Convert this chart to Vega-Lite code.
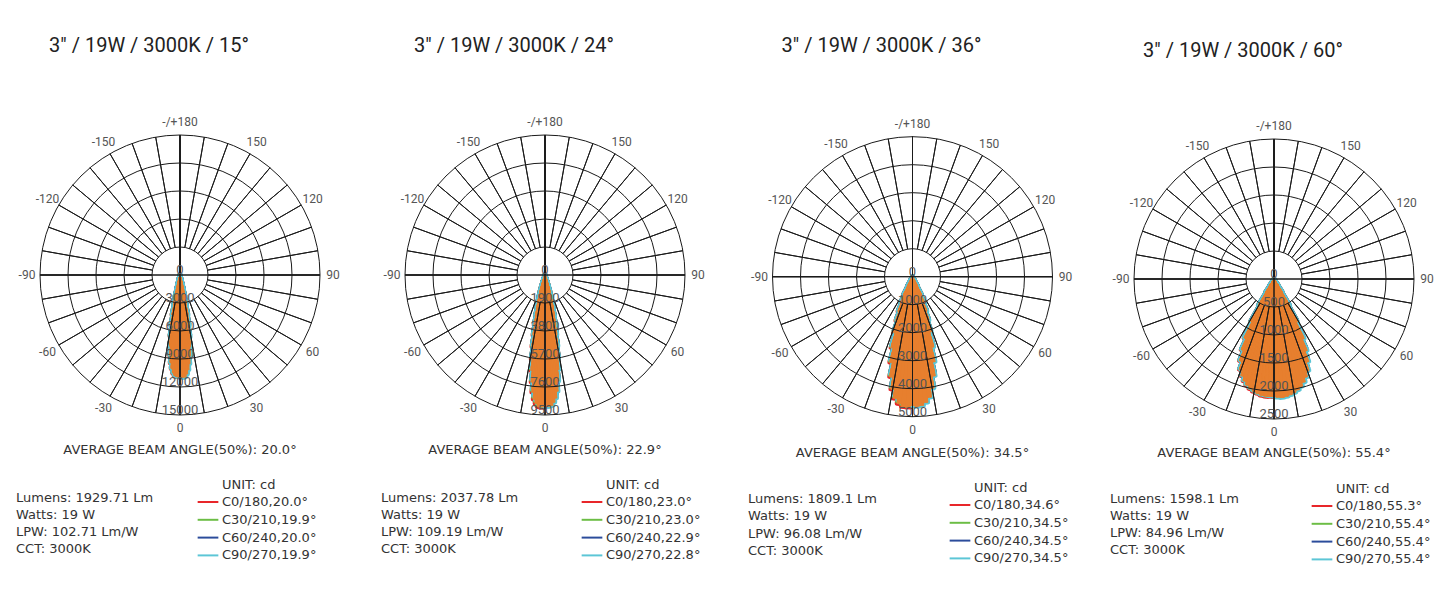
{
"$schema": "https://vega.github.io/schema/vega-lite/v6.json",
"padding": {"left": 0, "top": 36, "right": 0, "bottom": 0},
"background": "white",
"config": {"view": {"stroke": null}, "font": "DejaVu Sans"},
"datasets": {
"b1": [
{"a":-19,"c0":95,"c30":94,"c60":93,"c90":94},{"a":-18,"c0":194,"c30":192,"c60":190,"c90":192},{"a":-17,"c0":366,"c30":362,"c60":358,"c90":362},{"a":-16,"c0":643,"c30":637,"c60":631,"c90":637},{"a":-15,"c0":1062,"c30":1051,"c60":1040,"c90":1051},{"a":-14,"c0":1644,"c30":1628,"c60":1612,"c90":1628},{"a":-13,"c0":2402,"c30":2378,"c60":2354,"c90":2378},{"a":-12,"c0":3321,"c30":3288,"c60":3255,"c90":3288},{"a":-11,"c0":4377,"c30":4334,"c60":4291,"c90":4334},{"a":-10,"c0":5505,"c30":5450,"c60":5396,"c90":5450},{"a":-9,"c0":6643,"c30":6577,"c60":6511,"c90":6577},{"a":-8,"c0":7719,"c30":7643,"c60":7567,"c90":7643},{"a":-7,"c0":8677,"c30":8591,"c60":8505,"c90":8591},{"a":-6,"c0":9478,"c30":9384,"c60":9290,"c90":9384},{"a":-5,"c0":10095,"c30":9995,"c60":9895,"c90":9995},{"a":-4,"c0":10531,"c30":10427,"c60":10323,"c90":10427},{"a":-3,"c0":10805,"c30":10698,"c60":10591,"c90":10698},{"a":-2,"c0":10913,"c30":10840,"c60":10767,"c90":10840},{"a":-1,"c0":10928,"c30":10892,"c60":10856,"c90":10892},{"a":0,"c0":10900,"c30":10900,"c60":10900,"c90":10900},{"a":1,"c0":10783,"c30":10819,"c60":10856,"c90":10965},{"a":2,"c0":10623,"c30":10696,"c60":10767,"c90":10984},{"a":3,"c0":10377,"c30":10484,"c60":10591,"c90":10912},{"a":4,"c0":10114,"c30":10218,"c60":10323,"c90":10636},{"a":5,"c0":9695,"c30":9795,"c60":9895,"c90":10195},{"a":6,"c0":9102,"c30":9196,"c60":9290,"c90":9572},{"a":7,"c0":8333,"c30":8419,"c60":8505,"c90":8763},{"a":8,"c0":7414,"c30":7490,"c60":7567,"c90":7796},{"a":9,"c0":6380,"c30":6445,"c60":6511,"c90":6709},{"a":10,"c0":5287,"c30":5341,"c60":5396,"c90":5559},{"a":11,"c0":4204,"c30":4247,"c60":4291,"c90":4421},{"a":12,"c0":3189,"c30":3222,"c60":3255,"c90":3354},{"a":13,"c0":2307,"c30":2330,"c60":2354,"c90":2426},{"a":14,"c0":1579,"c30":1595,"c60":1612,"c90":1661},{"a":15,"c0":1019,"c30":1030,"c60":1040,"c90":1072},{"a":16,"c0":618,"c30":624,"c60":631,"c90":650},{"a":17,"c0":351,"c30":355,"c60":358,"c90":369},{"a":18,"c0":186,"c30":188,"c60":190,"c90":196},{"a":19,"c0":91,"c30":92,"c60":93,"c90":96}
],
"b2": [
{"a":-22,"c0":101,"c30":99,"c60":97,"c90":98},{"a":-21,"c0":202,"c30":198,"c60":194,"c90":196},{"a":-20,"c0":367,"c30":360,"c60":352,"c90":356},{"a":-19,"c0":595,"c30":584,"c60":572,"c90":578},{"a":-18,"c0":870,"c30":853,"c60":837,"c90":845},{"a":-17,"c0":1191,"c30":1168,"c60":1144,"c90":1156},{"a":-16,"c0":1556,"c30":1526,"c60":1496,"c90":1511},{"a":-15,"c0":1968,"c30":1930,"c60":1892,"c90":1911},{"a":-14,"c0":2380,"c30":2334,"c60":2288,"c90":2311},{"a":-13,"c0":2884,"c30":2828,"c60":2772,"c90":2800},{"a":-12,"c0":3479,"c30":3412,"c60":3344,"c90":3378},{"a":-11,"c0":4166,"c30":4085,"c60":4005,"c90":4045},{"a":-10,"c0":4945,"c30":4849,"c60":4753,"c90":4801},{"a":-9,"c0":5769,"c30":5657,"c60":5545,"c90":5601},{"a":-8,"c0":6547,"c30":6420,"c60":6292,"c90":6356},{"a":-7,"c0":7325,"c30":7183,"c60":7041,"c90":7112},{"a":-6,"c0":8012,"c30":7857,"c60":7701,"c90":7779},{"a":-5,"c0":8470,"c30":8305,"c60":8141,"c90":8223},{"a":-4,"c0":8745,"c30":8575,"c60":8405,"c90":8490},{"a":-3,"c0":8947,"c30":8773,"c60":8599,"c90":8686},{"a":-2,"c0":8977,"c30":8860,"c60":8742,"c90":8801},{"a":-1,"c0":8952,"c30":8892,"c60":8834,"c90":8863},{"a":0,"c0":8890,"c30":8890,"c60":8890,"c90":8890},{"a":1,"c0":8774,"c30":8804,"c60":8834,"c90":8922},{"a":2,"c0":8625,"c30":8684,"c60":8742,"c90":8918},{"a":3,"c0":8425,"c30":8512,"c60":8599,"c90":8860},{"a":4,"c0":8235,"c30":8320,"c60":8405,"c90":8660},{"a":5,"c0":7976,"c30":8059,"c60":8141,"c90":8387},{"a":6,"c0":7546,"c30":7623,"c60":7701,"c90":7935},{"a":7,"c0":6899,"c30":6970,"c60":7041,"c90":7254},{"a":8,"c0":6165,"c30":6229,"c60":6292,"c90":6483},{"a":9,"c0":5433,"c30":5489,"c60":5545,"c90":5713},{"a":10,"c0":4657,"c30":4705,"c60":4753,"c90":4897},{"a":11,"c0":3924,"c30":3964,"c60":4005,"c90":4126},{"a":12,"c0":3277,"c30":3310,"c60":3344,"c90":3446},{"a":13,"c0":2716,"c30":2744,"c60":2772,"c90":2856},{"a":14,"c0":2242,"c30":2265,"c60":2288,"c90":2357},{"a":15,"c0":1854,"c30":1873,"c60":1892,"c90":1949},{"a":16,"c0":1466,"c30":1481,"c60":1496,"c90":1541},{"a":17,"c0":1121,"c30":1133,"c60":1144,"c90":1179},{"a":18,"c0":820,"c30":828,"c60":837,"c90":862},{"a":19,"c0":561,"c30":566,"c60":572,"c90":590},{"a":20,"c0":345,"c30":349,"c60":352,"c90":363},{"a":21,"c0":190,"c30":192,"c60":194,"c90":200},{"a":22,"c0":95,"c30":96,"c60":97,"c90":100}
],
"b3": [
{"a":-34,"c0":19,"c30":18,"c60":18,"c90":18},{"a":-32,"c0":57,"c30":56,"c60":54,"c90":55},{"a":-30,"c0":166,"c30":163,"c60":159,"c90":161},{"a":-28,"c0":402,"c30":394,"c60":386,"c90":390},{"a":-26,"c0":732,"c30":718,"c60":704,"c90":711},{"a":-24,"c0":1064,"c30":1043,"c60":1023,"c90":1033},{"a":-22,"c0":1347,"c30":1321,"c60":1295,"c90":1308},{"a":-20,"c0":1678,"c30":1645,"c60":1613,"c90":1629},{"a":-18,"c0":2104,"c30":2063,"c60":2023,"c90":2043},{"a":-16,"c0":2647,"c30":2596,"c60":2544,"c90":2570},{"a":-14,"c0":3167,"c30":3106,"c60":3044,"c90":3075},{"a":-12,"c0":3664,"c30":3593,"c60":3521,"c90":3557},{"a":-10,"c0":4089,"c30":4010,"c60":3930,"c90":3970},{"a":-8,"c0":4397,"c30":4312,"c60":4226,"c90":4269},{"a":-6,"c0":4562,"c30":4473,"c60":4385,"c90":4429},{"a":-4,"c0":4657,"c30":4566,"c60":4476,"c90":4521},{"a":-2,"c0":4663,"c30":4603,"c60":4541,"c90":4572},{"a":0,"c0":4590,"c30":4590,"c60":4590,"c90":4590},{"a":2,"c0":4481,"c30":4511,"c60":4541,"c90":4633},{"a":4,"c0":4385,"c30":4431,"c60":4476,"c90":4611},{"a":6,"c0":4296,"c30":4340,"c60":4385,"c90":4518},{"a":8,"c0":4141,"c30":4184,"c60":4226,"c90":4354},{"a":10,"c0":3851,"c30":3891,"c60":3930,"c90":4049},{"a":12,"c0":3450,"c30":3486,"c60":3521,"c90":3628},{"a":14,"c0":2983,"c30":3014,"c60":3044,"c90":3137},{"a":16,"c0":2493,"c30":2519,"c60":2544,"c90":2621},{"a":18,"c0":1982,"c30":2002,"c60":2023,"c90":2084},{"a":20,"c0":1580,"c30":1596,"c60":1613,"c90":1662},{"a":22,"c0":1269,"c30":1282,"c60":1295,"c90":1334},{"a":24,"c0":1002,"c30":1012,"c60":1023,"c90":1054},{"a":26,"c0":690,"c30":697,"c60":704,"c90":725},{"a":28,"c0":378,"c30":382,"c60":386,"c90":398},{"a":30,"c0":156,"c30":158,"c60":159,"c90":164},{"a":32,"c0":53,"c30":54,"c60":54,"c90":56},{"a":34,"c0":17,"c30":18,"c60":18,"c90":18}
],
"b4": [
{"a":-40,"c0":8,"c30":8,"c60":8,"c90":8},{"a":-38,"c0":25,"c30":25,"c60":25,"c90":25},{"a":-36,"c0":64,"c30":63,"c60":62,"c90":63},{"a":-34,"c0":137,"c30":136,"c60":135,"c90":136},{"a":-32,"c0":275,"c30":272,"c60":269,"c90":272},{"a":-30,"c0":548,"c30":543,"c60":538,"c90":543},{"a":-28,"c0":866,"c30":857,"c60":848,"c90":857},{"a":-26,"c0":1182,"c30":1170,"c60":1158,"c90":1170},{"a":-24,"c0":1393,"c30":1379,"c60":1365,"c90":1379},{"a":-22,"c0":1584,"c30":1568,"c60":1552,"c90":1568},{"a":-20,"c0":1731,"c30":1714,"c60":1697,"c90":1714},{"a":-18,"c0":1826,"c30":1808,"c60":1790,"c90":1808},{"a":-16,"c0":1900,"c30":1881,"c60":1862,"c90":1881},{"a":-14,"c0":1959,"c30":1940,"c60":1921,"c90":1940},{"a":-12,"c0":2006,"c30":1986,"c60":1966,"c90":1986},{"a":-10,"c0":2041,"c30":2021,"c60":2001,"c90":2021},{"a":-8,"c0":2068,"c30":2048,"c60":2028,"c90":2048},{"a":-6,"c0":2090,"c30":2069,"c60":2048,"c90":2069},{"a":-4,"c0":2101,"c30":2080,"c60":2059,"c90":2080},{"a":-2,"c0":2100,"c30":2086,"c60":2072,"c90":2086},{"a":0,"c0":2090,"c30":2090,"c60":2090,"c90":2090},{"a":2,"c0":2044,"c30":2058,"c60":2072,"c90":2114},{"a":4,"c0":2018,"c30":2038,"c60":2059,"c90":2122},{"a":6,"c0":2007,"c30":2028,"c60":2048,"c90":2110},{"a":8,"c0":1987,"c30":2007,"c60":2028,"c90":2089},{"a":10,"c0":1960,"c30":1981,"c60":2001,"c90":2061},{"a":12,"c0":1926,"c30":1946,"c60":1966,"c90":2026},{"a":14,"c0":1882,"c30":1901,"c60":1921,"c90":1979},{"a":16,"c0":1825,"c30":1843,"c60":1862,"c90":1919},{"a":18,"c0":1754,"c30":1772,"c60":1790,"c90":1844},{"a":20,"c0":1663,"c30":1680,"c60":1697,"c90":1748},{"a":22,"c0":1521,"c30":1537,"c60":1552,"c90":1599},{"a":24,"c0":1338,"c30":1351,"c60":1365,"c90":1407},{"a":26,"c0":1135,"c30":1147,"c60":1158,"c90":1193},{"a":28,"c0":831,"c30":840,"c60":848,"c90":874},{"a":30,"c0":527,"c30":532,"c60":538,"c90":554},{"a":32,"c0":264,"c30":267,"c60":269,"c90":277},{"a":34,"c0":132,"c30":133,"c60":135,"c90":139},{"a":36,"c0":61,"c30":62,"c60":62,"c90":64},{"a":38,"c0":24,"c30":25,"c60":25,"c90":26},{"a":40,"c0":8,"c30":8,"c60":8,"c90":8}
],
"ang": [{"a":-150,"t":"-150"},{"a":-120,"t":"-120"},{"a":-90,"t":"-90"},{"a":-60,"t":"-60"},{"a":-30,"t":"-30"},{"a":0,"t":"0"},{"a":30,"t":"30"},{"a":60,"t":"60"},{"a":90,"t":"90"},{"a":120,"t":"120"},{"a":150,"t":"150"},{"a":180,"t":"-/+180"}],
"rad": [{"a":-180},{"a":-170},{"a":-160},{"a":-150},{"a":-140},{"a":-130},{"a":-120},{"a":-110},{"a":-100},{"a":-90},{"a":-80},{"a":-70},{"a":-60},{"a":-50},{"a":-40},{"a":-30},{"a":-20},{"a":-10},{"a":0},{"a":10},{"a":20},{"a":30},{"a":40},{"a":50},{"a":60},{"a":70},{"a":80},{"a":90},{"a":100},{"a":110},{"a":120},{"a":130},{"a":140},{"a":150},{"a":160},{"a":170}],
"cross": [{"a":-90},{"a":0},{"a":90},{"a":180}],
"r1": [{"v":0,"t":"0"},{"v":3000,"t":"3000"},{"v":6000,"t":"6000"},{"v":9000,"t":"9000"},{"v":12000,"t":"12000"},{"v":15000,"t":"15000"}],
"r2": [{"v":0,"t":"0"},{"v":1900,"t":"1900"},{"v":3800,"t":"3800"},{"v":5700,"t":"5700"},{"v":7600,"t":"7600"},{"v":9500,"t":"9500"}],
"r3": [{"v":0,"t":"0"},{"v":1000,"t":"1000"},{"v":2000,"t":"2000"},{"v":3000,"t":"3000"},{"v":4000,"t":"4000"},{"v":5000,"t":"5000"}],
"r4": [{"v":0,"t":"0"},{"v":500,"t":"500"},{"v":1000,"t":"1000"},{"v":1500,"t":"1500"},{"v":2000,"t":"2000"},{"v":2500,"t":"2500"}],
"i1": [{"line":0,"t":"Lumens: 1929.71 Lm"},{"line":1,"t":"Watts: 19 W"},{"line":2,"t":"LPW: 102.71 Lm/W"},{"line":3,"t":"CCT: 3000K"}],
"i2": [{"line":0,"t":"Lumens: 2037.78 Lm"},{"line":1,"t":"Watts: 19 W"},{"line":2,"t":"LPW: 109.19 Lm/W"},{"line":3,"t":"CCT: 3000K"}],
"i3": [{"line":0,"t":"Lumens: 1809.1 Lm"},{"line":1,"t":"Watts: 19 W"},{"line":2,"t":"LPW: 96.08 Lm/W"},{"line":3,"t":"CCT: 3000K"}],
"i4": [{"line":0,"t":"Lumens: 1598.1 Lm"},{"line":1,"t":"Watts: 19 W"},{"line":2,"t":"LPW: 84.96 Lm/W"},{"line":3,"t":"CCT: 3000K"}]
},
"spacing": 0,
"resolve": {"scale": {"fill": "independent", "stroke": "independent", "radius": "independent", "theta": "independent"}, "legend": {"fill": "independent"}},
"hconcat": [
{
"spacing": 57.7, "bounds": "flush",
"resolve": {"scale": {"fill": "independent", "stroke": "independent", "radius": "independent", "theta": "independent"}, "legend": {"fill": "independent"}},
"vconcat": [
{"width": 360, "height": 330,
 "title": {"text": "3\" / 19W / 3000K / 15°", "anchor": "middle", "dx": -31, "offset": 54, "fontSize": 20, "font": "Roboto", "fontWeight": "normal", "color": "#222222"},
 "layer": [
  {"data": {"name": "b1"}, "transform": [{"fold": ["c0","c30","c60","c90"], "as": ["plane","cd"]}],
   "mark": {"type": "arc", "thetaOffset": -0.008727, "theta2Offset": 0.008727, "strokeWidth": 4.5, "strokeJoin": "round"},
   "encoding": {
    "theta": {"field": "a", "type": "quantitative", "stack": null, "scale": {"domain": [-180, 180], "range": [6.283185, 0], "nice": false}},
    "theta2": {"field": "a"},
    "radius": {"field": "cd", "type": "quantitative", "stack": null, "scale": {"domain": [0, 15000], "range": [0, 140], "nice": false}},
    "fill": {"field": "plane", "type": "nominal", "scale": {"domain": ["c0","c30","c60","c90"], "range": ["#e8262a","#6cbd45","#2b4c9b","#5cc6d6"]},
      "legend": {"orient": "none", "legendX": 199, "legendY": 369, "title": "UNIT: cd", "titleFont": "DejaVu Sans", "titleFontSize": 13, "titleFontWeight": "normal", "titleColor": "#333333", "titleAnchor": "start", "titlePadding": 1, "labelFont": "DejaVu Sans", "labelFontSize": 13, "labelColor": "#333333", "labelOffset": 5, "symbolType": "M-1.15,-0.11L1.15,-0.11L1.15,0.11L-1.15,0.11Z", "symbolSize": 324, "symbolStrokeWidth": 0, "rowPadding": 1.8, "padding": 0,
        "encode": {"title": {"update": {"dx": {"value": 23}}}},
        "labelExpr": "datum.label == 'c0' ? 'C0/180,20.0°' : datum.label == 'c30' ? 'C30/210,19.9°' : datum.label == 'c60' ? 'C60/240,20.0°' : 'C90/270,19.9°'"}},
    "stroke": {"field": "plane", "type": "nominal", "scale": {"domain": ["c0","c30","c60","c90"], "range": ["#e8262a","#6cbd45","#2b4c9b","#5cc6d6"]}, "legend": null},
    "order": {"field": "plane"}
   }},
  {"data": {"name": "b1"}, "transform": [{"fold": ["c0","c30","c60","c90"], "as": ["plane","cd"]}],
   "mark": {"type": "arc", "color": "#e77f2e", "stroke": "#e77f2e", "strokeWidth": 1, "thetaOffset": -0.008727, "theta2Offset": 0.008727},
   "encoding": {
    "theta": {"field": "a", "type": "quantitative", "stack": null, "scale": {"domain": [-180, 180], "range": [6.283185, 0], "nice": false}},
    "theta2": {"field": "a"},
    "radius": {"field": "cd", "type": "quantitative", "stack": null, "scale": {"domain": [0, 15000], "range": [0, 140], "nice": false}}
   }},
  {"data": {"name": "r1"}, "transform": [{"filter": "datum.v > 0"}],
   "mark": {"type": "arc", "filled": false, "stroke": "#1a1a1a", "strokeWidth": 1},
   "encoding": {"theta": {"value": 0}, "theta2": {"value": 6.283185},
    "radius": {"field": "v", "type": "quantitative", "stack": null, "scale": {"domain": [0, 15000], "range": [0, 140], "nice": false}}}},
  {"data": {"name": "rad"},
   "mark": {"type": "arc", "filled": false, "stroke": "#1a1a1a", "strokeWidth": 1},
   "encoding": {"theta": {"field": "a", "type": "quantitative", "stack": null, "scale": {"domain": [-180, 180], "range": [6.283185, 0], "nice": false}}, "theta2": {"field": "a"},
    "radius": {"datum": 15000, "scale": {"domain": [0, 15000], "range": [0, 140], "nice": false}}, "radius2": {"datum": 3000}}},
  {"data": {"name": "cross"},
   "mark": {"type": "arc", "filled": false, "stroke": "#1a1a1a", "strokeWidth": 1},
   "encoding": {"theta": {"field": "a", "type": "quantitative", "stack": null, "scale": {"domain": [-180, 180], "range": [6.283185, 0], "nice": false}}, "theta2": {"field": "a"},
    "radius": {"datum": 15000, "scale": {"domain": [0, 15000], "range": [0, 140], "nice": false}}, "radius2": {"datum": 0}}},
  {"data": {"name": "r1"},
   "mark": {"type": "text", "font": "Roboto", "fontSize": 13, "color": "#555555", "align": "center", "baseline": "alphabetic", "dy": -1},
   "encoding": {"theta": {"datum": 0, "scale": {"domain": [-180, 180], "range": [6.283185, 0], "nice": false}},
    "radius": {"field": "v", "type": "quantitative", "scale": {"domain": [0, 15000], "range": [0, 140], "nice": false}}, "text": {"field": "t"}}},
  {"data": {"name": "ang"},
   "mark": {"type": "text", "font": "Roboto", "fontSize": 12, "color": "#555555", "align": "center", "baseline": "middle", "radiusOffset": 13},
   "encoding": {"theta": {"field": "a", "type": "quantitative", "scale": {"domain": [-180, 180], "range": [6.283185, 0], "nice": false}},
    "radius": {"datum": 15000, "scale": {"domain": [0, 15000], "range": [0, 140], "nice": false}}, "text": {"field": "t"}}}
 ]},
{"width": 360, "height": 51.3,
 "title": {"text": "AVERAGE BEAM ANGLE(50%): 20.0°", "anchor": "middle", "offset": 35, "fontSize": 13, "font": "DejaVu Sans", "fontWeight": "normal", "color": "#333333"},
 "data": {"name": "i1"},
 "mark": {"type": "text", "align": "left", "baseline": "middle", "font": "DejaVu Sans", "fontSize": 13, "color": "#333333", "dx": 16},
 "encoding": {"x": {"datum": 0, "type": "quantitative", "scale": {"domain": [0, 1]}, "axis": null},
  "y": {"field": "line", "type": "quantitative", "scale": {"domain": [0, 3], "reverse": true, "nice": false}, "axis": null},
  "text": {"field": "t"}}}
]},
{
"spacing": 57.7, "bounds": "flush",
"resolve": {"scale": {"fill": "independent", "stroke": "independent", "radius": "independent", "theta": "independent"}, "legend": {"fill": "independent"}},
"vconcat": [
{"width": 370, "height": 330,
 "title": {"text": "3\" / 19W / 3000K / 24°", "anchor": "middle", "dx": -31, "offset": 54, "fontSize": 20, "font": "Roboto", "fontWeight": "normal", "color": "#222222"},
 "layer": [
  {"data": {"name": "b2"}, "transform": [{"fold": ["c0","c30","c60","c90"], "as": ["plane","cd"]}],
   "mark": {"type": "arc", "thetaOffset": -0.008727, "theta2Offset": 0.008727, "strokeWidth": 4.5, "strokeJoin": "round"},
   "encoding": {
    "theta": {"field": "a", "type": "quantitative", "stack": null, "scale": {"domain": [-180, 180], "range": [6.283185, 0], "nice": false}},
    "theta2": {"field": "a"},
    "radius": {"field": "cd", "type": "quantitative", "stack": null, "scale": {"domain": [0, 9500], "range": [0, 140], "nice": false}},
    "fill": {"field": "plane", "type": "nominal", "scale": {"domain": ["c0","c30","c60","c90"], "range": ["#e8262a","#6cbd45","#2b4c9b","#5cc6d6"]},
      "legend": {"orient": "none", "legendX": 223, "legendY": 369, "title": "UNIT: cd", "titleFont": "DejaVu Sans", "titleFontSize": 13, "titleFontWeight": "normal", "titleColor": "#333333", "titleAnchor": "start", "titlePadding": 1, "labelFont": "DejaVu Sans", "labelFontSize": 13, "labelColor": "#333333", "labelOffset": 5, "symbolType": "M-1.15,-0.11L1.15,-0.11L1.15,0.11L-1.15,0.11Z", "symbolSize": 324, "symbolStrokeWidth": 0, "rowPadding": 1.8, "padding": 0,
        "encode": {"title": {"update": {"dx": {"value": 23}}}},
        "labelExpr": "datum.label == 'c0' ? 'C0/180,23.0°' : datum.label == 'c30' ? 'C30/210,23.0°' : datum.label == 'c60' ? 'C60/240,22.9°' : 'C90/270,22.8°'"}},
    "stroke": {"field": "plane", "type": "nominal", "scale": {"domain": ["c0","c30","c60","c90"], "range": ["#e8262a","#6cbd45","#2b4c9b","#5cc6d6"]}, "legend": null},
    "order": {"field": "plane"}
   }},
  {"data": {"name": "b2"}, "transform": [{"fold": ["c0","c30","c60","c90"], "as": ["plane","cd"]}],
   "mark": {"type": "arc", "color": "#e77f2e", "stroke": "#e77f2e", "strokeWidth": 1, "thetaOffset": -0.008727, "theta2Offset": 0.008727},
   "encoding": {
    "theta": {"field": "a", "type": "quantitative", "stack": null, "scale": {"domain": [-180, 180], "range": [6.283185, 0], "nice": false}},
    "theta2": {"field": "a"},
    "radius": {"field": "cd", "type": "quantitative", "stack": null, "scale": {"domain": [0, 9500], "range": [0, 140], "nice": false}}
   }},
  {"data": {"name": "r2"}, "transform": [{"filter": "datum.v > 0"}],
   "mark": {"type": "arc", "filled": false, "stroke": "#1a1a1a", "strokeWidth": 1},
   "encoding": {"theta": {"value": 0}, "theta2": {"value": 6.283185},
    "radius": {"field": "v", "type": "quantitative", "stack": null, "scale": {"domain": [0, 9500], "range": [0, 140], "nice": false}}}},
  {"data": {"name": "rad"},
   "mark": {"type": "arc", "filled": false, "stroke": "#1a1a1a", "strokeWidth": 1},
   "encoding": {"theta": {"field": "a", "type": "quantitative", "stack": null, "scale": {"domain": [-180, 180], "range": [6.283185, 0], "nice": false}}, "theta2": {"field": "a"},
    "radius": {"datum": 9500, "scale": {"domain": [0, 9500], "range": [0, 140], "nice": false}}, "radius2": {"datum": 1900}}},
  {"data": {"name": "cross"},
   "mark": {"type": "arc", "filled": false, "stroke": "#1a1a1a", "strokeWidth": 1},
   "encoding": {"theta": {"field": "a", "type": "quantitative", "stack": null, "scale": {"domain": [-180, 180], "range": [6.283185, 0], "nice": false}}, "theta2": {"field": "a"},
    "radius": {"datum": 9500, "scale": {"domain": [0, 9500], "range": [0, 140], "nice": false}}, "radius2": {"datum": 0}}},
  {"data": {"name": "r2"},
   "mark": {"type": "text", "font": "Roboto", "fontSize": 13, "color": "#555555", "align": "center", "baseline": "alphabetic", "dy": -1},
   "encoding": {"theta": {"datum": 0, "scale": {"domain": [-180, 180], "range": [6.283185, 0], "nice": false}},
    "radius": {"field": "v", "type": "quantitative", "scale": {"domain": [0, 9500], "range": [0, 140], "nice": false}}, "text": {"field": "t"}}},
  {"data": {"name": "ang"},
   "mark": {"type": "text", "font": "Roboto", "fontSize": 12, "color": "#555555", "align": "center", "baseline": "middle", "radiusOffset": 13},
   "encoding": {"theta": {"field": "a", "type": "quantitative", "scale": {"domain": [-180, 180], "range": [6.283185, 0], "nice": false}},
    "radius": {"datum": 9500, "scale": {"domain": [0, 9500], "range": [0, 140], "nice": false}}, "text": {"field": "t"}}}
 ]},
{"width": 370, "height": 51.3,
 "title": {"text": "AVERAGE BEAM ANGLE(50%): 22.9°", "anchor": "middle", "offset": 35, "fontSize": 13, "font": "DejaVu Sans", "fontWeight": "normal", "color": "#333333"},
 "data": {"name": "i2"},
 "mark": {"type": "text", "align": "left", "baseline": "middle", "font": "DejaVu Sans", "fontSize": 13, "color": "#333333", "dx": 21},
 "encoding": {"x": {"datum": 0, "type": "quantitative", "scale": {"domain": [0, 1]}, "axis": null},
  "y": {"field": "line", "type": "quantitative", "scale": {"domain": [0, 3], "reverse": true, "nice": false}, "axis": null},
  "text": {"field": "t"}}}
]},
{
"spacing": 55.3, "bounds": "flush",
"resolve": {"scale": {"fill": "independent", "stroke": "independent", "radius": "independent", "theta": "independent"}, "legend": {"fill": "independent"}},
"vconcat": [
{"width": 365, "height": 333.4,
 "title": {"text": "3\" / 19W / 3000K / 36°", "anchor": "middle", "dx": -31, "offset": 54, "fontSize": 20, "font": "Roboto", "fontWeight": "normal", "color": "#222222"},
 "layer": [
  {"data": {"name": "b3"}, "transform": [{"fold": ["c0","c30","c60","c90"], "as": ["plane","cd"]}],
   "mark": {"type": "arc", "thetaOffset": -0.017453, "theta2Offset": 0.017453, "strokeWidth": 4.5, "strokeJoin": "round"},
   "encoding": {
    "theta": {"field": "a", "type": "quantitative", "stack": null, "scale": {"domain": [-180, 180], "range": [6.283185, 0], "nice": false}},
    "theta2": {"field": "a"},
    "radius": {"field": "cd", "type": "quantitative", "stack": null, "scale": {"domain": [0, 5000], "range": [0, 140], "nice": false}},
    "fill": {"field": "plane", "type": "nominal", "scale": {"domain": ["c0","c30","c60","c90"], "range": ["#e8262a","#6cbd45","#2b4c9b","#5cc6d6"]},
      "legend": {"orient": "none", "legendX": 221, "legendY": 372, "title": "UNIT: cd", "titleFont": "DejaVu Sans", "titleFontSize": 13, "titleFontWeight": "normal", "titleColor": "#333333", "titleAnchor": "start", "titlePadding": 1, "labelFont": "DejaVu Sans", "labelFontSize": 13, "labelColor": "#333333", "labelOffset": 5, "symbolType": "M-1.15,-0.11L1.15,-0.11L1.15,0.11L-1.15,0.11Z", "symbolSize": 324, "symbolStrokeWidth": 0, "rowPadding": 1.8, "padding": 0,
        "encode": {"title": {"update": {"dx": {"value": 23}}}},
        "labelExpr": "datum.label == 'c0' ? 'C0/180,34.6°' : datum.label == 'c30' ? 'C30/210,34.5°' : datum.label == 'c60' ? 'C60/240,34.5°' : 'C90/270,34.5°'"}},
    "stroke": {"field": "plane", "type": "nominal", "scale": {"domain": ["c0","c30","c60","c90"], "range": ["#e8262a","#6cbd45","#2b4c9b","#5cc6d6"]}, "legend": null},
    "order": {"field": "plane"}
   }},
  {"data": {"name": "b3"}, "transform": [{"fold": ["c0","c30","c60","c90"], "as": ["plane","cd"]}],
   "mark": {"type": "arc", "color": "#e77f2e", "stroke": "#e77f2e", "strokeWidth": 1, "thetaOffset": -0.017453, "theta2Offset": 0.017453},
   "encoding": {
    "theta": {"field": "a", "type": "quantitative", "stack": null, "scale": {"domain": [-180, 180], "range": [6.283185, 0], "nice": false}},
    "theta2": {"field": "a"},
    "radius": {"field": "cd", "type": "quantitative", "stack": null, "scale": {"domain": [0, 5000], "range": [0, 140], "nice": false}}
   }},
  {"data": {"name": "r3"}, "transform": [{"filter": "datum.v > 0"}],
   "mark": {"type": "arc", "filled": false, "stroke": "#1a1a1a", "strokeWidth": 1},
   "encoding": {"theta": {"value": 0}, "theta2": {"value": 6.283185},
    "radius": {"field": "v", "type": "quantitative", "stack": null, "scale": {"domain": [0, 5000], "range": [0, 140], "nice": false}}}},
  {"data": {"name": "rad"},
   "mark": {"type": "arc", "filled": false, "stroke": "#1a1a1a", "strokeWidth": 1},
   "encoding": {"theta": {"field": "a", "type": "quantitative", "stack": null, "scale": {"domain": [-180, 180], "range": [6.283185, 0], "nice": false}}, "theta2": {"field": "a"},
    "radius": {"datum": 5000, "scale": {"domain": [0, 5000], "range": [0, 140], "nice": false}}, "radius2": {"datum": 1000}}},
  {"data": {"name": "cross"},
   "mark": {"type": "arc", "filled": false, "stroke": "#1a1a1a", "strokeWidth": 1},
   "encoding": {"theta": {"field": "a", "type": "quantitative", "stack": null, "scale": {"domain": [-180, 180], "range": [6.283185, 0], "nice": false}}, "theta2": {"field": "a"},
    "radius": {"datum": 5000, "scale": {"domain": [0, 5000], "range": [0, 140], "nice": false}}, "radius2": {"datum": 0}}},
  {"data": {"name": "r3"},
   "mark": {"type": "text", "font": "Roboto", "fontSize": 13, "color": "#555555", "align": "center", "baseline": "alphabetic", "dy": -1},
   "encoding": {"theta": {"datum": 0, "scale": {"domain": [-180, 180], "range": [6.283185, 0], "nice": false}},
    "radius": {"field": "v", "type": "quantitative", "scale": {"domain": [0, 5000], "range": [0, 140], "nice": false}}, "text": {"field": "t"}}},
  {"data": {"name": "ang"},
   "mark": {"type": "text", "font": "Roboto", "fontSize": 12, "color": "#555555", "align": "center", "baseline": "middle", "radiusOffset": 13},
   "encoding": {"theta": {"field": "a", "type": "quantitative", "scale": {"domain": [-180, 180], "range": [6.283185, 0], "nice": false}},
    "radius": {"datum": 5000, "scale": {"domain": [0, 5000], "range": [0, 140], "nice": false}}, "text": {"field": "t"}}}
 ]},
{"width": 365, "height": 51.3,
 "title": {"text": "AVERAGE BEAM ANGLE(50%): 34.5°", "anchor": "middle", "offset": 33, "fontSize": 13, "font": "DejaVu Sans", "fontWeight": "normal", "color": "#333333"},
 "data": {"name": "i3"},
 "mark": {"type": "text", "align": "left", "baseline": "middle", "font": "DejaVu Sans", "fontSize": 13, "color": "#333333", "dx": 18},
 "encoding": {"x": {"datum": 0, "type": "quantitative", "scale": {"domain": [0, 1]}, "axis": null},
  "y": {"field": "line", "type": "quantitative", "scale": {"domain": [0, 3], "reverse": true, "nice": false}, "axis": null},
  "text": {"field": "t"}}}
]},
{
"spacing": 50.7, "bounds": "flush",
"resolve": {"scale": {"fill": "independent", "stroke": "independent", "radius": "independent", "theta": "independent"}, "legend": {"fill": "independent"}},
"vconcat": [
{"width": 358, "height": 338,
 "title": {"text": "3\" / 19W / 3000K / 60°", "anchor": "middle", "dx": -31, "dy": 5, "offset": 54, "fontSize": 20, "font": "Roboto", "fontWeight": "normal", "color": "#222222"},
 "layer": [
  {"data": {"name": "b4"}, "transform": [{"fold": ["c0","c30","c60","c90"], "as": ["plane","cd"]}],
   "mark": {"type": "arc", "thetaOffset": -0.017453, "theta2Offset": 0.017453, "strokeWidth": 4.5, "strokeJoin": "round"},
   "encoding": {
    "theta": {"field": "a", "type": "quantitative", "stack": null, "scale": {"domain": [-180, 180], "range": [6.283185, 0], "nice": false}},
    "theta2": {"field": "a"},
    "radius": {"field": "cd", "type": "quantitative", "stack": null, "scale": {"domain": [0, 2500], "range": [0, 140], "nice": false}},
    "fill": {"field": "plane", "type": "nominal", "scale": {"domain": ["c0","c30","c60","c90"], "range": ["#e8262a","#6cbd45","#2b4c9b","#5cc6d6"]},
      "legend": {"orient": "none", "legendX": 218, "legendY": 373, "title": "UNIT: cd", "titleFont": "DejaVu Sans", "titleFontSize": 13, "titleFontWeight": "normal", "titleColor": "#333333", "titleAnchor": "start", "titlePadding": 1, "labelFont": "DejaVu Sans", "labelFontSize": 13, "labelColor": "#333333", "labelOffset": 5, "symbolType": "M-1.15,-0.11L1.15,-0.11L1.15,0.11L-1.15,0.11Z", "symbolSize": 324, "symbolStrokeWidth": 0, "rowPadding": 1.8, "padding": 0,
        "encode": {"title": {"update": {"dx": {"value": 23}}}},
        "labelExpr": "datum.label == 'c0' ? 'C0/180,55.3°' : datum.label == 'c30' ? 'C30/210,55.4°' : datum.label == 'c60' ? 'C60/240,55.4°' : 'C90/270,55.4°'"}},
    "stroke": {"field": "plane", "type": "nominal", "scale": {"domain": ["c0","c30","c60","c90"], "range": ["#e8262a","#6cbd45","#2b4c9b","#5cc6d6"]}, "legend": null},
    "order": {"field": "plane"}
   }},
  {"data": {"name": "b4"}, "transform": [{"fold": ["c0","c30","c60","c90"], "as": ["plane","cd"]}],
   "mark": {"type": "arc", "color": "#e77f2e", "stroke": "#e77f2e", "strokeWidth": 1, "thetaOffset": -0.017453, "theta2Offset": 0.017453},
   "encoding": {
    "theta": {"field": "a", "type": "quantitative", "stack": null, "scale": {"domain": [-180, 180], "range": [6.283185, 0], "nice": false}},
    "theta2": {"field": "a"},
    "radius": {"field": "cd", "type": "quantitative", "stack": null, "scale": {"domain": [0, 2500], "range": [0, 140], "nice": false}}
   }},
  {"data": {"name": "r4"}, "transform": [{"filter": "datum.v > 0"}],
   "mark": {"type": "arc", "filled": false, "stroke": "#1a1a1a", "strokeWidth": 1},
   "encoding": {"theta": {"value": 0}, "theta2": {"value": 6.283185},
    "radius": {"field": "v", "type": "quantitative", "stack": null, "scale": {"domain": [0, 2500], "range": [0, 140], "nice": false}}}},
  {"data": {"name": "rad"},
   "mark": {"type": "arc", "filled": false, "stroke": "#1a1a1a", "strokeWidth": 1},
   "encoding": {"theta": {"field": "a", "type": "quantitative", "stack": null, "scale": {"domain": [-180, 180], "range": [6.283185, 0], "nice": false}}, "theta2": {"field": "a"},
    "radius": {"datum": 2500, "scale": {"domain": [0, 2500], "range": [0, 140], "nice": false}}, "radius2": {"datum": 500}}},
  {"data": {"name": "cross"},
   "mark": {"type": "arc", "filled": false, "stroke": "#1a1a1a", "strokeWidth": 1},
   "encoding": {"theta": {"field": "a", "type": "quantitative", "stack": null, "scale": {"domain": [-180, 180], "range": [6.283185, 0], "nice": false}}, "theta2": {"field": "a"},
    "radius": {"datum": 2500, "scale": {"domain": [0, 2500], "range": [0, 140], "nice": false}}, "radius2": {"datum": 0}}},
  {"data": {"name": "r4"},
   "mark": {"type": "text", "font": "Roboto", "fontSize": 13, "color": "#555555", "align": "center", "baseline": "alphabetic", "dy": -1},
   "encoding": {"theta": {"datum": 0, "scale": {"domain": [-180, 180], "range": [6.283185, 0], "nice": false}},
    "radius": {"field": "v", "type": "quantitative", "scale": {"domain": [0, 2500], "range": [0, 140], "nice": false}}, "text": {"field": "t"}}},
  {"data": {"name": "ang"},
   "mark": {"type": "text", "font": "Roboto", "fontSize": 12, "color": "#555555", "align": "center", "baseline": "middle", "radiusOffset": 13},
   "encoding": {"theta": {"field": "a", "type": "quantitative", "scale": {"domain": [-180, 180], "range": [6.283185, 0], "nice": false}},
    "radius": {"datum": 2500, "scale": {"domain": [0, 2500], "range": [0, 140], "nice": false}}, "text": {"field": "t"}}}
 ]},
{"width": 358, "height": 51.3,
 "title": {"text": "AVERAGE BEAM ANGLE(50%): 55.4°", "anchor": "middle", "offset": 33, "fontSize": 13, "font": "DejaVu Sans", "fontWeight": "normal", "color": "#333333"},
 "data": {"name": "i4"},
 "mark": {"type": "text", "align": "left", "baseline": "middle", "font": "DejaVu Sans", "fontSize": 13, "color": "#333333", "dx": 15},
 "encoding": {"x": {"datum": 0, "type": "quantitative", "scale": {"domain": [0, 1]}, "axis": null},
  "y": {"field": "line", "type": "quantitative", "scale": {"domain": [0, 3], "reverse": true, "nice": false}, "axis": null},
  "text": {"field": "t"}}}
]}
]
}
